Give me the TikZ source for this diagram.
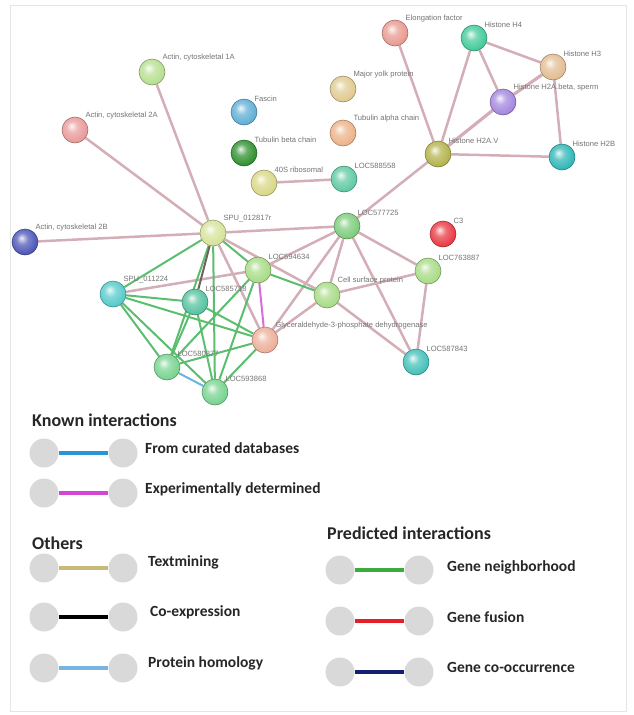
\documentclass[tikz,border=0pt]{standalone}
\usepackage{fontspec}
\setmainfont{Carlito}
\newfontfamily\lblfont{Liberation Sans}
\usepackage{tikz}
\usetikzlibrary{positioning, backgrounds}

% node colours
\definecolor{cActA}{RGB}{180,222,140}
\definecolor{cActB}{RGB}{232,150,150}
\definecolor{cActC}{RGB}{70,80,180}
\definecolor{cFasc}{RGB}{90,172,212}
\definecolor{cTubB}{RGB}{40,140,40}
\definecolor{cRps}{RGB}{216,214,130}
\definecolor{cElong}{RGB}{232,150,140}
\definecolor{cHfour}{RGB}{60,200,150}
\definecolor{cHthree}{RGB}{226,186,142}
\definecolor{cHab}{RGB}{160,130,222}
\definecolor{cYolk}{RGB}{222,200,140}
\definecolor{cTubA}{RGB}{236,176,132}
\definecolor{cHav}{RGB}{176,176,70}
\definecolor{cHb}{RGB}{40,180,180}
\definecolor{cLocA}{RGB}{90,200,160}
\definecolor{cSpuA}{RGB}{212,226,150}
\definecolor{cGreen}{RGB}{120,202,120}
\definecolor{cLight}{RGB}{165,218,130}
\definecolor{cCthree}{RGB}{232,50,60}
\definecolor{cSpuB}{RGB}{80,200,200}
\definecolor{cTeal}{RGB}{80,192,156}
\definecolor{cGap}{RGB}{236,172,150}
\definecolor{cLocT}{RGB}{60,190,182}
\definecolor{cMint}{RGB}{115,210,140}
% edge colours
\definecolor{edgepink}{RGB}{212,174,182}
\definecolor{edgegreen}{RGB}{90,190,110}
\definecolor{edgedark}{RGB}{110,100,90}
\definecolor{curated}{RGB}{40,150,210}
\definecolor{experimental}{RGB}{210,70,210}
\definecolor{textmining}{RGB}{200,185,120}
\definecolor{homology}{RGB}{120,180,225}
\definecolor{neighborhood}{RGB}{60,170,60}
\definecolor{fusion}{RGB}{230,30,40}
\definecolor{cooccur}{RGB}{20,30,110}
\definecolor{legdotgray}{RGB}{217,217,217}

% pastel sphere shading
\colorlet{protc}{gray}
\pgfdeclareradialshading[protc]{protball}{\pgfpoint{-7bp}{8bp}}{%
  color(0bp)=(protc!10!white); color(11bp)=(protc!70!white);
  color(26bp)=(protc!95!white); color(36bp)=(protc!85!black);
  color(50bp)=(protc!70!black)}

\tikzset{
  prot/.style={circle, minimum size=26pt, inner sep=0pt,
    /utils/exec={\colorlet{protc}{#1}}, shading=protball,
    draw=#1!65!black, line width=0.5pt},
  lbl/.style={font=\lblfont\fontsize{7.6}{9}\selectfont, text=black!55, inner sep=1pt},
  edge/.style={line width=2.5pt, draw=edgepink},
  gedge/.style={line width=2pt, draw=edgegreen},
  legdot/.style={circle, minimum size=29pt, inner sep=0pt, fill=legdotgray},
  legline/.style={line width=4pt, draw=#1},
  legtext/.style={anchor=west, font=\bfseries\fontsize{15.5}{17}\selectfont, text=black!85, inner sep=0pt},
  leghead/.style={anchor=west, font=\bfseries\fontsize{18}{20}\selectfont, text=black!85, inner sep=0pt}
}

\begin{document}
\begin{tikzpicture}[x=1pt, y=-1pt]
    \useasboundingbox (0,0) rectangle (634,715);

    % proteins of the network
    \node[prot=cActA, label={[lbl]45:{Actin, cytoskeletal 1A}}] (actA) at (152,72) {};
    \node[prot=cActB, label={[lbl]45:{Actin, cytoskeletal 2A}}] (actB) at (75,130) {};
    \node[prot=cActC, label={[lbl]45:{Actin, cytoskeletal 2B}}] (actC) at (25,242) {};
    \node[prot=cFasc, label={[lbl]45:Fascin}] (fasc) at (244,112) {};
    \node[prot=cTubB, label={[lbl]45:Tubulin beta chain}] (tubb) at (244,153) {};
    \node[prot=cRps, label={[lbl]45:40S ribosomal}] (rps) at (264,183) {};
    \node[prot=cYolk, label={[lbl]45:Major yolk protein}] (yolk) at (343,89) {};
    \node[prot=cTubA, label={[lbl]45:Tubulin alpha chain}] (tuba) at (343,133) {};
    \node[prot=cLocA, label={[lbl]45:LOC588558}] (loc88) at (344,179) {};

    % histone group
    \node[prot=cElong, label={[lbl]45:Elongation factor}] (elong) at (395,33) {};
    \node[prot=cHfour, label={[lbl]45:Histone H4}] (h4) at (474,38) {};
    \node[prot=cHthree, label={[lbl]45:Histone H3}] (h3) at (553,67) {};
    \node[prot=cHab, label={[lbl]45:{Histone H2A.beta, sperm}}] (h2ab) at (503,102) {};
    \node[prot=cHav, label={[lbl]45:Histone H2A.V}] (h2av) at (438,154) {};
    \node[prot=cHb, label={[lbl]45:Histone H2B}] (h2b) at (562,157) {};

    % central cluster
    \node[prot=cSpuA, label={[lbl]45:SPU\_012817r}] (spu17) at (213,233) {};
    \node[prot=cGreen, label={[lbl]45:LOC577725}] (loc25) at (347,226) {};
    \node[prot=cCthree, label={[lbl]45:C3}] (c3) at (443,234) {};
    \node[prot=cLight, label={[lbl]45:LOC594634}] (loc34) at (258,270) {};
    \node[prot=cLight, label={[lbl]45:LOC763887}] (loc87) at (428,271) {};
    \node[prot=cLight, label={[lbl]45:Cell surface protein}] (cell) at (327,295) {};
    \node[prot=cSpuB, label={[lbl]45:SPU\_011224}] (spu24) at (113,294) {};
    \node[prot=cTeal, label={[lbl]45:LOC585718}] (loc18) at (195,302) {};
    \node[prot=cGap, label={[lbl]45:Glyceraldehyde-3-phosphate dehydrogenase}] (gapdh) at (265,340) {};
    \node[prot=cLocT, label={[lbl]45:LOC587843}] (loc43) at (416,362) {};
    \node[prot=cMint, label={[lbl]45:LOC580877}] (loc77) at (167,367) {};
    \node[prot=cMint, label={[lbl]45:LOC593868}] (loc68) at (215,392) {};

    \begin{scope}[on background layer]
    % faint frame
    \draw[black!10, line width=0.8pt] (10,5) rectangle (626,711);

    % edges of the histone group
    \draw[edge] (elong) -- (h2av);
    \draw[edge] (h4) -- (h2av);
    \draw[edge] (h4) -- (h3);
    \draw[edge] (h4) -- (h2ab);
    \draw[edge, line width=3.2pt] (h3) -- (h2ab);
    \draw[edge] (h3) -- (h2b);
    \draw[edge, line width=3.2pt] (h2ab) -- (h2av);
    \draw[edge] (h2av) -- (h2b);
    \draw[edge] (h2av) -- (loc25);

    % edges to the left
    \draw[edge] (actA) -- (spu17);
    \draw[edge] (actB) -- (spu17);
    \draw[edge] (actC) -- (spu17);
    \draw[edge] (spu17) -- (loc25);
    \draw[edge] (rps) -- (loc88);
    \draw[edge] (spu17) -- (cell);
    \draw[edge] (spu17) -- (gapdh);

    % edges from LOC577725
    \draw[edge] (loc25) -- (loc34);
    \draw[edge] (loc25) -- (cell);
    \draw[edge] (loc25) -- (gapdh);
    \draw[edge] (loc25) -- (loc87);
    \draw[edge] (loc25) -- (loc43);
    \draw[edge] (cell) -- (loc87);
    \draw[edge] (cell) -- (loc43);
    \draw[edge] (loc87) -- (loc43);
    \draw[edge] (cell) -- (gapdh);
    \draw[edge] (spu24) -- (loc34);

    % green edges of the cluster
    \draw[gedge] (spu17) -- (spu24);
    \draw[gedge] (spu17) -- (loc34);
    \draw[gedge] (spu17) -- (loc77);
    \draw[gedge] (spu17) -- (loc68);
    \draw[gedge, draw=edgedark] (spu17) -- (loc18);
    \draw[gedge] (loc34) -- (cell);
    \draw[gedge] (loc34) -- (loc77);
    \draw[gedge] (loc34) -- (loc68);
    \draw[gedge, draw=experimental!80] (loc34) -- (gapdh);
    \draw[gedge] (spu24) -- (loc18);
    \draw[gedge] (spu24) -- (loc77);
    \draw[gedge] (spu24) -- (loc68);
    \draw[gedge] (spu24) -- (gapdh);
    \draw[gedge] (loc18) -- (loc77);
    \draw[gedge] (loc18) -- (loc68);
    \draw[gedge] (loc18) -- (gapdh);
    \draw[gedge] (gapdh) -- (loc77);
    \draw[gedge] (gapdh) -- (loc68);
    \draw[gedge, draw=curated!70] (loc77) -- (loc68);
    \end{scope}

    % legend: known interactions
    \node[leghead] (known) at (32,420) {Known interactions};
    \node[legdot] (k1a) at (44,453) {};
    \node[legdot] (k1b) at (123,453) {};
    \draw[legline=curated] (k1a) -- (k1b);
    \node[legtext] (k1t) at (145,448) {From curated databases};
    \node[legdot] (k2a) at (44,493) {};
    \node[legdot] (k2b) at (123,493) {};
    \draw[legline=experimental] (k2a) -- (k2b);
    \node[legtext] (k2t) at (145,489) {Experimentally determined};

    % legend: others
    \node[leghead] (others) at (32,543) {Others};
    \node[legdot] (o1a) at (44,568) {};
    \node[legdot] (o1b) at (123,568) {};
    \draw[legline=textmining] (o1a) -- (o1b);
    \node[legtext] (o1t) at (148,562) {Textmining};
    \node[legdot] (o2a) at (44,617) {};
    \node[legdot] (o2b) at (123,617) {};
    \draw[legline=black] (o2a) -- (o2b);
    \node[legtext] (o2t) at (150,612) {Co-expression};
    \node[legdot] (o3a) at (44,668) {};
    \node[legdot] (o3b) at (123,668) {};
    \draw[legline=homology] (o3a) -- (o3b);
    \node[legtext] (o3t) at (148,663) {Protein homology};

    % legend: predicted interactions
    \node[leghead] (pred) at (327,533) {Predicted interactions};
    \node[legdot] (p1a) at (340,570) {};
    \node[legdot] (p1b) at (419,570) {};
    \draw[legline=neighborhood] (p1a) -- (p1b);
    \node[legtext] (p1t) at (447,567) {Gene neighborhood};
    \node[legdot] (p2a) at (340,621) {};
    \node[legdot] (p2b) at (419,621) {};
    \draw[legline=fusion] (p2a) -- (p2b);
    \node[legtext] (p2t) at (447,617) {Gene fusion};
    \node[legdot] (p3a) at (340,672) {};
    \node[legdot] (p3b) at (419,672) {};
    \draw[legline=cooccur] (p3a) -- (p3b);
    \node[legtext] (p3t) at (447,667) {Gene co-occurrence};

\end{tikzpicture}
\end{document}
